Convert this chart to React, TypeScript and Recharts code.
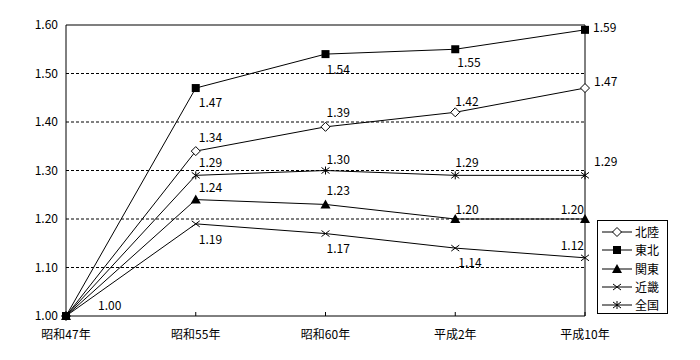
import React from 'react';
import {
  LineChart,
  Line,
  XAxis,
  YAxis,
  CartesianGrid,
  ReferenceLine,
  Legend,
  LabelList,
} from 'recharts';

const years = ['昭和47年', '昭和55年', '昭和60年', '平成2年', '平成10年'];
const hokuriku = [1.0, 1.34, 1.39, 1.42, 1.47];
const tohoku = [1.0, 1.47, 1.54, 1.55, 1.59];
const kanto = [1.0, 1.24, 1.23, 1.2, 1.2];
const kinki = [1.0, 1.19, 1.17, 1.14, 1.12];
const zenkoku = [1.0, 1.29, 1.3, 1.29, 1.29];
const yTicks = [1.0, 1.1, 1.2, 1.3, 1.4, 1.5, 1.6];
const gridValues = [1.1, 1.2, 1.3, 1.4, 1.5];

const FONT = '"Noto Sans CJK JP", "Noto Sans", sans-serif';

const data = years.map((year, i) => ({
  year,
  hokuriku: hokuriku[i],
  tohoku: tohoku[i],
  kanto: kanto[i],
  kinki: kinki[i],
  zenkoku: zenkoku[i],
}));

type MarkerType = 'diamond' | 'square' | 'triangle' | 'cross' | 'star';

const series: { key: string; name: string; marker: MarkerType }[] = [
  { key: 'hokuriku', name: '北陸', marker: 'diamond' },
  { key: 'tohoku', name: '東北', marker: 'square' },
  { key: 'kanto', name: '関東', marker: 'triangle' },
  { key: 'kinki', name: '近畿', marker: 'cross' },
  { key: 'zenkoku', name: '全国', marker: 'star' },
];

// label placement per point: [dx, dy, anchor] or null (no label)
type Place = [number, number, 'start' | 'end'] | null;
const labelPlaces: Record<string, Place[]> = {
  hokuriku: [[32, -12, 'start'], [3, -15, 'start'], [1, -15, 'start'], [0, -12, 'start'], [9, -8, 'start']],
  tohoku: [null, [3, 13, 'start'], [1, 14, 'start'], [2, 12, 'start'], [8, -3, 'start']],
  kanto: [null, [3, -13, 'start'], [1, -15, 'start'], [0, -11, 'start'], [-1, -11, 'end']],
  kinki: [null, [3, 15, 'start'], [1, 14, 'start'], [3, 13, 'start'], [-1, -13, 'end']],
  zenkoku: [null, [3, -14, 'start'], [1, -12, 'start'], [0, -14, 'start'], [9, -15, 'start']],
};

function Marker({ type, cx, cy }: { type: MarkerType; cx: number; cy: number }) {
  switch (type) {
    case 'diamond':
      return (
        <path
          d={`M${cx},${cy - 4.5}L${cx + 4.5},${cy}L${cx},${cy + 4.5}L${cx - 4.5},${cy}Z`}
          fill="#fff"
          stroke="#000"
          strokeWidth={1}
        />
      );
    case 'square':
      return <rect x={cx - 4} y={cy - 4} width={8} height={8} fill="#000" />;
    case 'triangle':
      return <path d={`M${cx},${cy - 5}L${cx + 5},${cy + 4}L${cx - 5},${cy + 4}Z`} fill="#000" />;
    case 'cross':
      return (
        <path
          d={`M${cx - 4},${cy - 3}L${cx + 4},${cy + 3}M${cx - 4},${cy + 3}L${cx + 4},${cy - 3}`}
          stroke="#000"
          strokeWidth={1}
        />
      );
    default:
      return (
        <path
          d={`M${cx - 4},${cy - 3}L${cx + 4},${cy + 3}M${cx - 4},${cy + 3}L${cx + 4},${cy - 3}M${cx},${cy - 4}L${cx},${cy + 4}`}
          stroke="#000"
          strokeWidth={1}
        />
      );
  }
}

const makeDot = (type: MarkerType) => (props: any) => {
  const { cx, cy, index } = props;
  if (cx == null || cy == null) return <g key={index} />;
  return (
    <g key={index}>
      <Marker type={type} cx={cx} cy={cy} />
    </g>
  );
};

const makeLabel = (key: string) => (props: any) => {
  const { x, y, value, index } = props;
  const place = labelPlaces[key][index];
  if (!place) return null;
  const [dx, dy, anchor] = place;
  return (
    <text
      x={x + dx}
      y={y + dy}
      textAnchor={anchor}
      dominantBaseline="central"
      fontSize={12}
      fontFamily={FONT}
      fill="#000"
    >
      {Number(value).toFixed(2)}
    </text>
  );
};

const XTick = (props: any) => {
  const { x, y, payload } = props;
  return (
    <g>
      <line x1={x} y1={y} x2={x} y2={y - 4} stroke="#000" />
      <text x={x} y={y + 17} textAnchor="middle" dominantBaseline="central" fontSize={12} fontFamily={FONT} fill="#000">
        {payload.value}
      </text>
    </g>
  );
};

const LegendBox = () => (
  <div
    style={{
      border: '1px solid #000',
      background: '#fff',
      width: 69,
      height: 90,
      boxSizing: 'content-box',
      paddingTop: 2,
      fontFamily: FONT,
      fontSize: 12,
      color: '#000',
    }}
  >
    {series.map((s) => (
      <div key={s.key} style={{ display: 'flex', alignItems: 'center', height: 18.3 }}>
        <svg width={37} height={18} style={{ display: 'block' }}>
          <line x1={4} y1={9} x2={34} y2={9} stroke="#000" />
          <Marker type={s.marker} cx={19} cy={9} />
        </svg>
        <span style={{ lineHeight: '18px' }}>{s.name}</span>
      </div>
    ))}
  </div>
);

export default function App() {
  return (
    <div style={{ position: 'absolute', left: 0, top: 0, width: 700, height: 360, background: '#fff' }}>
      <LineChart width={700} height={360} data={data} margin={{ top: 25, right: 115, left: 0, bottom: 0 }}>
        <CartesianGrid
          horizontal
          vertical={false}
          horizontalValues={gridValues}
          stroke="#000"
          strokeDasharray="3 2"
        />
        <XAxis
          dataKey="year"
          height={44}
          axisLine={{ stroke: '#000' }}
          tickLine={false}
          tickSize={0}
          tickMargin={0}
          tick={<XTick />}
          interval={0}
        />
        <YAxis
          width={66}
          domain={[1, 1.6]}
          ticks={yTicks}
          tickFormatter={(v: number) => v.toFixed(2)}
          axisLine={{ stroke: '#000' }}
          tickLine={false}
          tick={{ fill: '#000', fontSize: 12, fontFamily: FONT }}
        />
        <ReferenceLine y={1.6} stroke="#000" strokeWidth={1.2} />
        <ReferenceLine x="平成10年" stroke="#000" />
        {series.map((s) => (
          <Line
            key={s.key}
            type="linear"
            dataKey={s.key}
            name={s.name}
            stroke="#000"
            strokeWidth={1}
            dot={makeDot(s.marker)}
            activeDot={false}
            isAnimationActive={false}
          >
            <LabelList dataKey={s.key} content={makeLabel(s.key)} />
          </Line>
        ))}
        <Legend
          layout="vertical"
          align="center"
          verticalAlign="middle"
          content={<LegendBox />}
          wrapperStyle={{ left: 597, top: 220, width: 71, height: 94 }}
        />
      </LineChart>
    </div>
  );
}
